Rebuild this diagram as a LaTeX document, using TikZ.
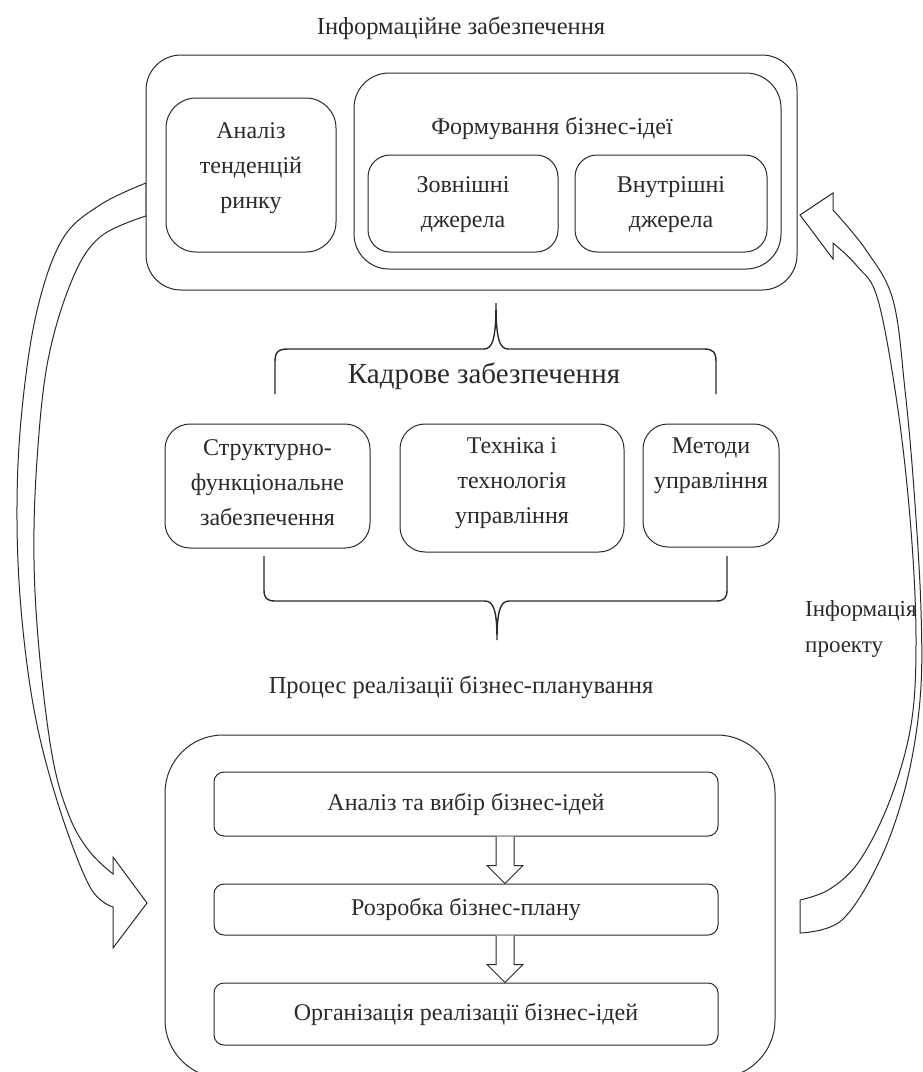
\documentclass[tikz,border=0pt]{standalone}
\usepackage{fontspec}
\setmainfont{Liberation Serif}
\usetikzlibrary{calc}
\definecolor{ink}{HTML}{2A2A2A}
\tikzset{
  ln/.style={draw=ink, line width=1pt},
  rbox/.style={ln, rounded corners=#1, inner sep=0pt},
  btxt/.style={font=\fontsize{24}{35}\selectfont, align=center, text=ink, inner sep=0pt},
  htxt/.style={font=\fontsize{#1}{#1}\selectfont, text=ink, inner sep=0pt},
  bracestyle/.style={draw=ink, line width=1.4pt},
  flowarrow/.style={ln, fill=white, line join=miter},
  bigarrow/.style={ln, fill=white, line join=miter},
}
\begin{document}
\begin{tikzpicture}[x=1pt,y=-1pt]
\useasboundingbox (0,0) rectangle (922,1072);

% ---------- curved arrows (drawn first) ----------
\draw[bigarrow] plot[smooth, tension=0.6] coordinates {(146,183) (100,205) (62,240) (36,315) (21,420) (17,520) (22,620) (36,720) (60,810) (90,887) (113,907)}
  -- (113,948) -- (147,903) -- (113,857) -- (113,874)
  -- plot[smooth, tension=0.6] coordinates {(113,874) (90,852) (70,818) (53,760) (40,660) (34,560) (37,460) (48,360) (72,280) (100,237) (146,216)} -- cycle;

\draw[bigarrow] plot[smooth, tension=0.6] coordinates {(800,933) (842,920) (880,860) (906,785) (920,700) (921,610) (914,490) (905,390) (893,300) (866,250) (833,210)}
  -- (833,193) -- (800,215) -- (833,259) -- (833,243)
  -- plot[smooth, tension=0.6] coordinates {(833,243) (857,266) (878,300) (898,410) (911,530) (916,640) (911,725) (890,800) (860,860) (830,889) (800,900)} -- cycle;

% ---------- top block ----------
\node[htxt=24.5] (t1) at (461,28) {Інформаційне забезпечення};
\node[rbox=35pt, fill=white, minimum width=651pt, minimum height=235pt] (top) at (471.5,172.5) {};
\node[rbox=30pt, minimum width=170pt, minimum height=154pt] (an) at (251,175) {};
\node[btxt] (antx) at (251,168) {Аналіз\\тенденцій\\ринку};
\node[rbox=35pt, minimum width=427pt, minimum height=196pt] (form) at (567.5,171) {};
\node[htxt=24] (formtx) at (552,128) {Формування бізнес-ідеї};
\node[rbox=22pt, minimum width=190pt, minimum height=97pt] (zov) at (463,203.5) {};
\node[btxt] (zovtx) at (463,205) {Зовнішні\\джерела};
\node[rbox=22pt, minimum width=192pt, minimum height=97pt] (vn) at (671,203.5) {};
\node[btxt] (vntx) at (671,205) {Внутрішні\\джерела};

% ---------- braces ----------
\coordinate (br1l) at (275,394);
\coordinate (br1r) at (716,394);
\coordinate (br1t) at (496,303);
\draw[bracestyle] (br1l) -- (275,362) .. controls (275,352) and (278,349) .. (288,349) -- (484,349)
  .. controls (493,349) and (496,337) .. (br1t)
  .. controls (496,337) and (499,349) .. (508,349) -- (704,349)
  .. controls (713,349) and (716,352) .. (716,362) -- (br1r);
\node[htxt=29] (kadr) at (484,376) {Кадрове забезпечення};

\node[rbox=25pt, minimum width=205pt, minimum height=124pt] (s1) at (267.5,486) {};
\node[btxt] (s1tx) at (267.5,483) {Структурно-\\функціональне\\забезпечення};
\node[rbox=25pt, minimum width=224pt, minimum height=128pt] (s2) at (512,488) {};
\node[btxt] (s2tx) at (512,483) {Техніка і\\технологія\\управління};
\node[rbox=25pt, minimum width=136pt, minimum height=123pt] (s3) at (711,485.5) {};
\node[btxt] (s3tx) at (711,466) {Методи\\управління};

\coordinate (br2l) at (264,556);
\coordinate (br2r) at (727,556);
\coordinate (br2t) at (497,640);
\draw[bracestyle] (br2l) -- (264,590) .. controls (264,598) and (267,601) .. (275,601) -- (485,601)
  .. controls (494,601) and (497,612) .. (br2t)
  .. controls (497,612) and (500,601) .. (509,601) -- (716,601)
  .. controls (724,601) and (727,598) .. (727,590) -- (br2r);

\node[align=left, anchor=west, text=ink, inner sep=0pt, font=\fontsize{23}{36}\selectfont] (info) at (805,629) {Інформація\\проекту};

\node[htxt=24.5] (proc) at (461,687) {Процес реалізації бізнес-планування};

% ---------- bottom block ----------
\node[rbox=58pt, minimum width=610pt, minimum height=343pt] (bot) at (470,906.5) {};
\node[rbox=10pt, btxt, minimum width=504pt, minimum height=64pt] (p1) at (466,804) {Аналіз та вибір бізнес-ідей};
\node[rbox=10pt, btxt, minimum width=504pt, minimum height=51pt] (p2) at (466,909.5) {Розробка бізнес-плану};
\node[rbox=10pt, btxt, minimum width=504pt, minimum height=62pt] (p3) at (466,1014) {Організація реалізації бізнес-ідей};

\coordinate (a1s) at ($(p1.south)+(39,0)$);
\coordinate (a1e) at ($(p2.north)+(39,0)$);
\coordinate (a2s) at ($(p2.south)+(39,0)$);
\coordinate (a2e) at ($(p3.north)+(39,0)$);
\foreach \s/\e in {a1s/a1e, a2s/a2e}{
  \draw[flowarrow] ($(\s)+(-9,0)$) -- ($(\e)+(-9,-18)$) -- ($(\e)+(-18,-18)$) -- (\e)
    -- ($(\e)+(18,-18)$) -- ($(\e)+(9,-18)$) -- ($(\s)+(9,0)$);
}
\end{tikzpicture}
\end{document}
